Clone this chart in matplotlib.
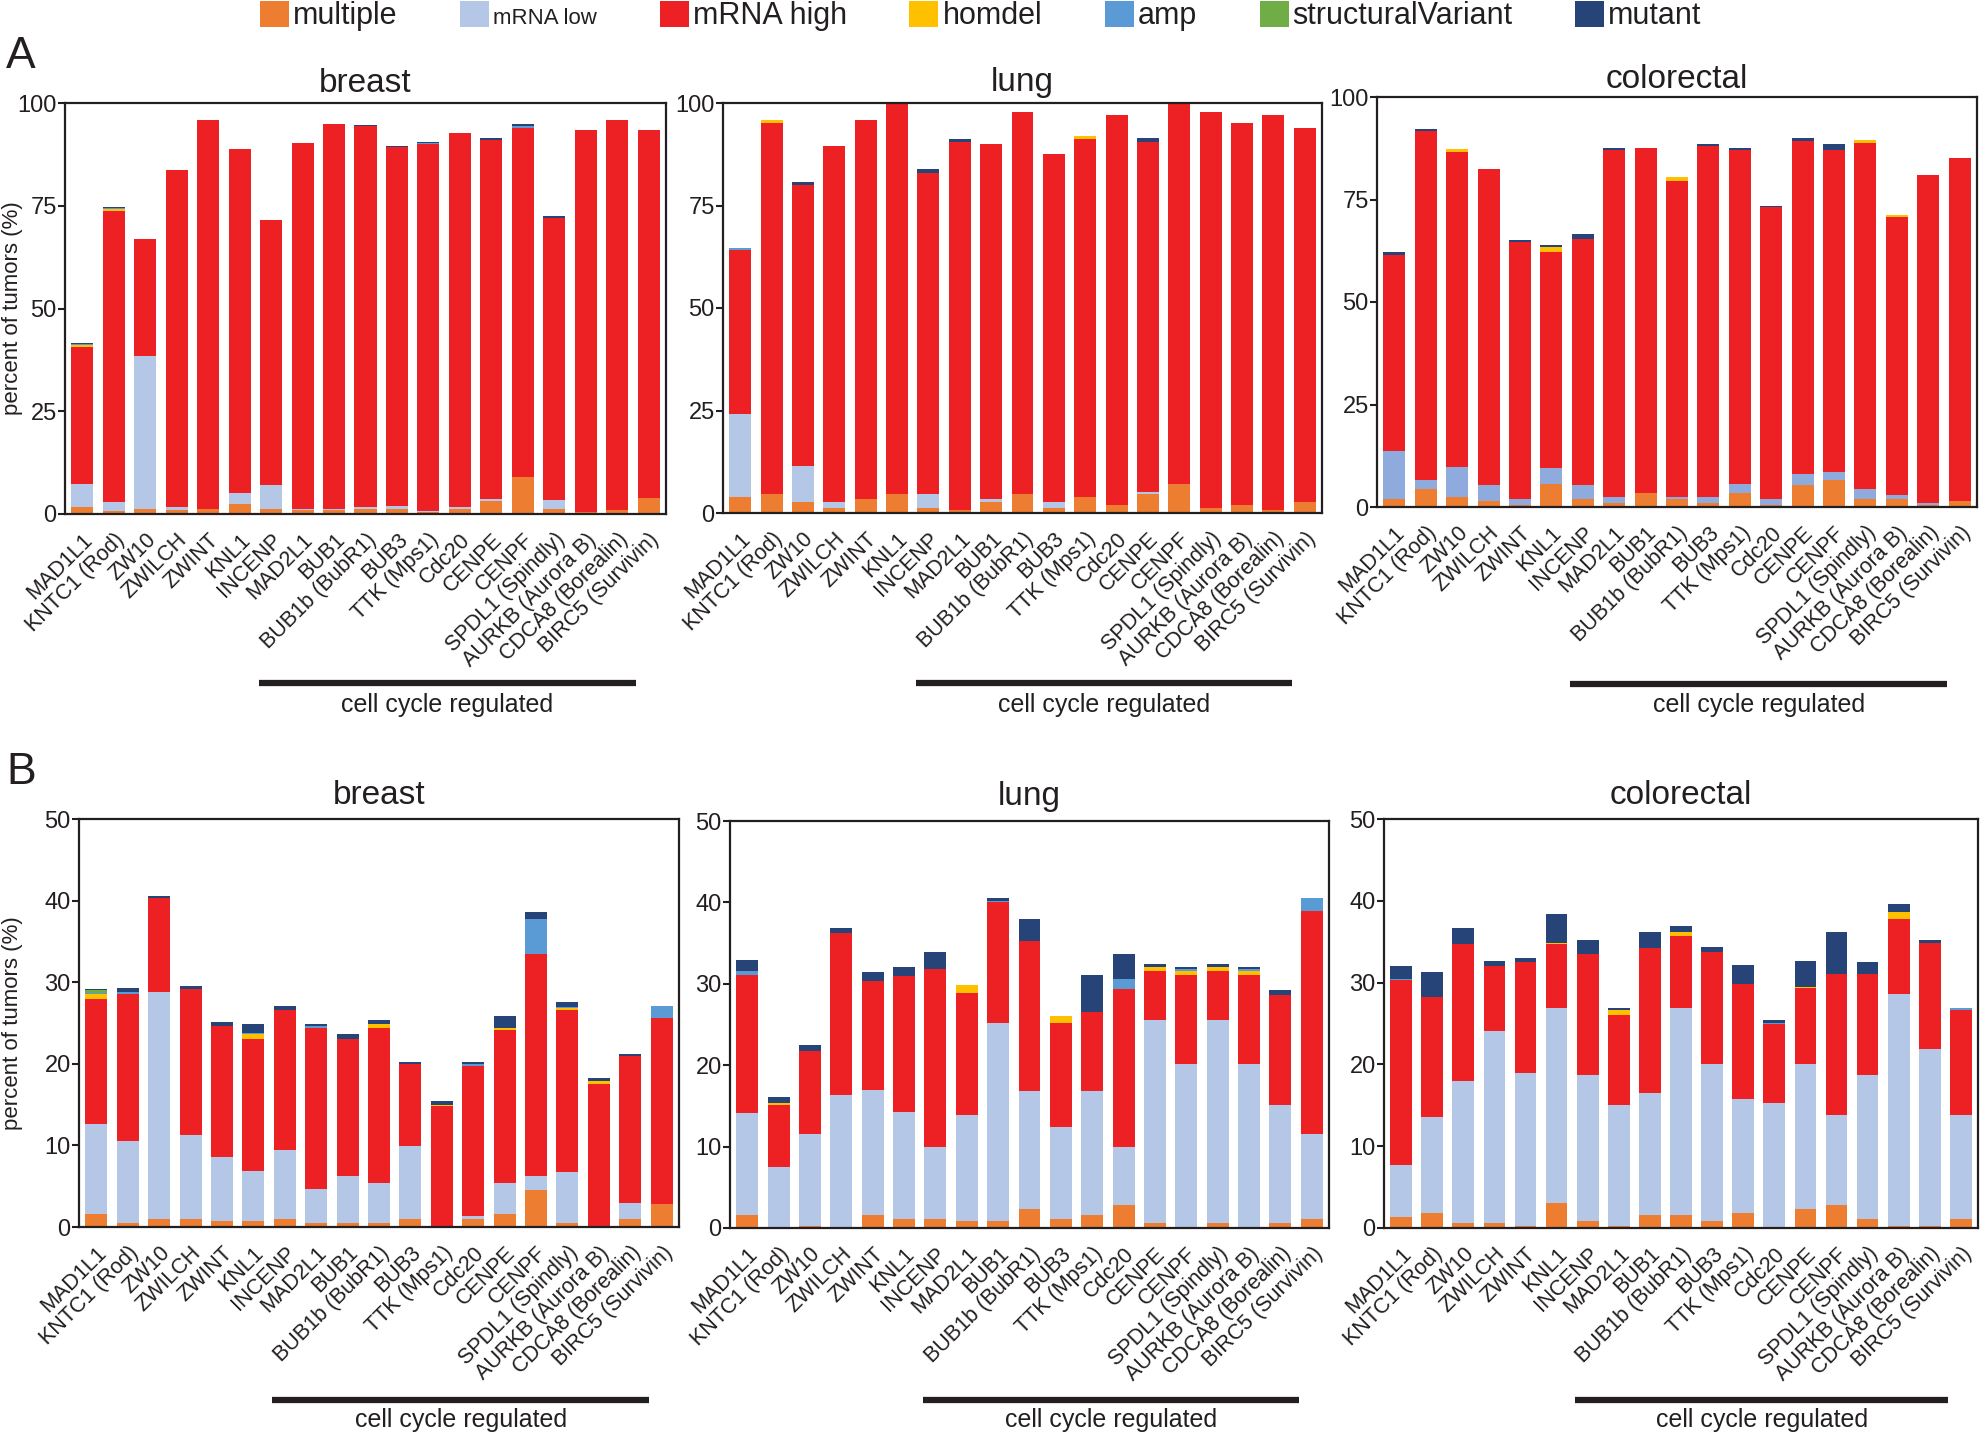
import matplotlib
matplotlib.use('Agg')
import matplotlib.pyplot as plt
from matplotlib.patches import Patch
from matplotlib.transforms import blended_transform_factory, ScaledTranslation
import numpy as np

plt.rcParams['font.family'] = ['Liberation Sans', 'DejaVu Sans']

# ---------------- data ----------------
genes = ['MAD1L1', 'KNTC1 (Rod)', 'ZW10', 'ZWILCH', 'ZWINT', 'KNL1', 'INCENP',
         'MAD2L1', 'BUB1', 'BUB1b (BubR1)', 'BUB3', 'TTK (Mps1)', 'Cdc20',
         'CENPE', 'CENPF', 'SPDL1 (Spindly)', 'AURKB (Aurora B)',
         'CDCA8 (Borealin)', 'BIRC5 (Survivin)']
categories = ['multiple', 'mRNA low', 'mRNA high', 'homdel', 'amp',
              'structuralVariant', 'mutant']
colors = ['#ED7D31', '#B4C7E7', '#ED2024', '#FFC000', '#5B9BD5', '#70AD47', '#264478']

Z = [0] * 19

# Panel A: breast
A_breast_multiple = [1.7, 0.7, 1.1, 0.9, 1.3, 2.4, 1.3, 0.9, 0.9, 1.3, 1.1, 0.4, 1.3, 3.1, 9.1, 1.1, 0.5, 0.9, 3.9]
A_breast_mrna_low = [5.7, 2.3, 37.4, 0.8, 0, 2.6, 5.8, 0.3, 0.3, 0.4, 0.9, 0.3, 0.4, 0.6, 0, 2.2, 0, 0, 0]
A_breast_mrna_high = [33.3, 70.8, 28.3, 82.0, 94.6, 83.9, 64.4, 89.0, 93.7, 92.6, 87.2, 89.4, 91.1, 87.4, 84.7, 68.7, 93.0, 95.0, 89.6]
A_breast_homdel = [0.4, 0.4, 0, 0, 0, 0, 0, 0, 0, 0, 0, 0, 0, 0, 0, 0, 0, 0, 0]
A_breast_amp = [0.3, 0.2, 0, 0, 0, 0, 0, 0, 0, 0.15, 0.2, 0.2, 0, 0, 0.6, 0, 0, 0, 0]
A_breast_sv = Z
A_breast_mutant = [0.3, 0.2, 0, 0, 0, 0, 0, 0, 0, 0.15, 0.2, 0.3, 0, 0.4, 0.4, 0.4, 0, 0, 0]

# Panel A: lung
A_lung_multiple = [3.9, 4.6, 2.6, 1.3, 3.3, 4.6, 1.3, 0.7, 2.6, 4.6, 1.3, 3.9, 2.0, 4.6, 7.0, 1.3, 2.0, 0.7, 2.6]
A_lung_mrna_low = [20.2, 0, 8.9, 1.3, 0, 0, 3.3, 0, 0.7, 0, 1.3, 0, 0, 0.6, 0, 0, 0, 0, 0]
A_lung_mrna_high = [40.1, 90.6, 68.5, 86.8, 92.5, 95.1, 78.4, 89.9, 86.8, 93.1, 85.0, 87.4, 95.1, 85.4, 93.0, 96.4, 93.2, 96.4, 91.3]
A_lung_homdel = [0, 0.6, 0, 0, 0, 0, 0, 0, 0, 0, 0, 0.6, 0, 0, 0, 0, 0, 0, 0]
A_lung_amp = [0.5, 0, 0, 0, 0, 0, 0, 0, 0, 0, 0, 0, 0, 0, 0, 0, 0, 0, 0]
A_lung_sv = Z
A_lung_mutant = [0, 0, 0.7, 0, 0, 0, 0.9, 0.7, 0, 0, 0, 0, 0, 0.8, 0, 0, 0, 0, 0]

# Panel A: colorectal
A_crc_multiple = [2.0, 4.3, 2.4, 1.5, 0.6, 5.7, 2.0, 1.0, 3.3, 2.0, 1.0, 3.3, 0.6, 5.3, 6.7, 2.0, 2.0, 0.6, 1.5]
A_crc_mrna_low = [11.7, 2.4, 7.4, 3.8, 1.4, 3.7, 3.3, 1.4, 0, 0.4, 1.4, 2.4, 1.4, 2.7, 1.8, 2.3, 0.9, 0.4, 0]
A_crc_mrna_high = [47.7, 85.1, 76.8, 77.1, 62.6, 52.8, 60.1, 84.7, 84.2, 77.1, 85.6, 81.4, 71.1, 81.3, 78.6, 84.6, 67.8, 80.0, 83.7]
A_crc_homdel = [0, 0, 0.6, 0, 0, 1.1, 0, 0, 0, 1.0, 0, 0, 0, 0, 0, 0.5, 0.5, 0, 0]
A_crc_amp = Z
A_crc_sv = Z
A_crc_mutant = [0.9, 0.5, 0, 0, 0.5, 0.5, 1.1, 0.5, 0, 0, 0.5, 0.5, 0.4, 0.6, 1.4, 0, 0, 0, 0]

# Panel B: breast
B_breast_multiple = [1.6, 0.5, 1.0, 1.0, 0.7, 0.7, 1.0, 0.5, 0.5, 0.5, 1.0, 0, 1.0, 1.6, 4.5, 0.5, 0, 1.0, 2.8]
B_breast_mrna_low = [11.0, 10.1, 27.8, 10.3, 7.9, 6.2, 8.4, 4.2, 5.7, 4.9, 8.9, 0, 0.3, 3.8, 1.7, 6.2, 0, 2.0, 0]
B_breast_mrna_high = [15.4, 18.0, 11.5, 17.9, 16.0, 16.2, 17.2, 19.7, 16.9, 19.0, 10.1, 14.8, 18.4, 18.7, 27.3, 19.9, 17.5, 17.9, 22.8]
B_breast_homdel = [0.5, 0, 0, 0, 0, 0.5, 0, 0, 0, 0.5, 0, 0.2, 0, 0.3, 0, 0.2, 0.4, 0, 0]
B_breast_amp = [0.2, 0.2, 0, 0, 0, 0.2, 0, 0.2, 0, 0, 0, 0, 0.3, 0, 4.3, 0.2, 0, 0, 1.5]
B_breast_sv = [0.3, 0, 0, 0, 0, 0, 0, 0, 0, 0, 0, 0, 0, 0, 0, 0, 0, 0, 0]
B_breast_mutant = [0.2, 0.5, 0.3, 0.3, 0.5, 1.1, 0.5, 0.3, 0.5, 0.5, 0.2, 0.5, 0.2, 1.5, 0.8, 0.6, 0.3, 0.3, 0]

# Panel B: lung
B_lung_multiple = [1.6, 0, 0.3, 0, 1.6, 1.1, 1.1, 0.8, 0.8, 2.3, 1.1, 1.6, 2.8, 0.6, 0, 0.6, 0, 0.6, 1.1]
B_lung_mrna_low = [12.5, 7.5, 11.3, 16.3, 15.4, 13.2, 8.8, 13.1, 24.4, 14.5, 11.3, 15.2, 7.1, 24.9, 20.2, 24.9, 20.2, 14.5, 10.5]
B_lung_mrna_high = [17.0, 7.6, 10.1, 20.0, 13.4, 16.6, 21.9, 15.0, 14.8, 18.5, 12.8, 9.7, 19.5, 6.1, 10.9, 6.1, 10.9, 13.5, 27.4]
B_lung_homdel = [0, 0.3, 0, 0, 0, 0, 0, 1.0, 0, 0, 0.8, 0, 0, 0.5, 0.5, 0.5, 0.5, 0, 0]
B_lung_amp = [0.5, 0, 0, 0, 0, 0, 0, 0, 0.2, 0, 0, 0, 1.2, 0, 0.2, 0, 0.2, 0, 1.5]
B_lung_sv = Z
B_lung_mutant = [1.3, 0.7, 0.8, 0.5, 1.0, 1.2, 2.1, 0, 0.3, 2.7, 0, 4.6, 3.0, 0.3, 0.3, 0.3, 0.3, 0.6, 0]

# Panel B: colorectal
B_crc_multiple = [1.3, 1.8, 0.6, 0.6, 0.3, 3.0, 0.8, 0.3, 1.6, 1.6, 0.8, 1.8, 0, 2.3, 2.8, 1.1, 0.3, 0.3, 1.1]
B_crc_mrna_low = [6.4, 11.8, 17.4, 23.5, 18.7, 23.9, 17.9, 14.7, 14.9, 25.3, 19.2, 14.0, 15.3, 17.7, 11.0, 17.6, 28.3, 21.6, 12.7]
B_crc_mrna_high = [22.6, 14.7, 16.7, 7.9, 13.5, 7.8, 14.8, 11.1, 17.7, 8.8, 13.7, 14.0, 9.6, 9.3, 17.2, 12.3, 9.2, 13.0, 12.8]
B_crc_homdel = [0, 0, 0, 0, 0, 0.2, 0, 0.5, 0, 0.5, 0, 0, 0, 0.2, 0, 0, 0.8, 0, 0]
B_crc_amp = [0.2, 0, 0, 0, 0, 0, 0, 0, 0, 0, 0, 0, 0.2, 0, 0, 0, 0, 0, 0.3]
B_crc_sv = Z
B_crc_mutant = [1.5, 3.0, 2.0, 0.7, 0.5, 3.5, 1.7, 0.3, 2.0, 0.7, 0.7, 2.4, 0.3, 3.2, 5.2, 1.5, 1.0, 0.3, 0]

A_ticks = [0, 25, 50, 75, 100]
B_ticks = [0, 10, 20, 30, 40, 50]

# ---------------- figure ----------------
W, H = 1983, 1434
fig = plt.figure(figsize=(W / 100, H / 100), dpi=100)
INK = '#231F20'


def add_ax(l, t, r, b):
    return fig.add_axes([l / W, 1 - b / H, (r - l) / W, (b - t) / H])


def draw(ax, series, ticks, low_color, ylabel, ylab_x):
    x = np.arange(len(genes))
    bottom = np.zeros(len(genes))
    cols = list(colors)
    cols[1] = low_color
    for vals, c in zip(series, cols):
        v = np.asarray(vals, dtype=float)
        ax.bar(x, v, bottom=bottom, width=0.7, color=c, linewidth=0)
        bottom += v
    ax.set_xlim(-0.55, len(genes) - 0.45)
    ax.set_ylim(ticks[0], ticks[-1])
    ax.set_yticks(ticks)
    ax.set_xticks(x)
    ax.set_xticklabels(genes, rotation=45, ha='right', va='top',
                       rotation_mode='anchor', fontsize=15.5, color=INK)
    shift = ScaledTranslation(0.09, 0, fig.dpi_scale_trans)
    for lab in ax.get_xticklabels():
        lab.set_transform(lab.get_transform() + shift)
    ax.tick_params(axis='x', length=0, pad=11)
    ax.tick_params(axis='y', direction='out', length=5, width=1.5,
                   labelsize=17, pad=1, colors=INK)
    for s in ax.spines.values():
        s.set_linewidth(1.6)
        s.set_color(INK)
    if ylabel:
        ax.set_ylabel('percent of tumors (%)', fontsize=16, color=INK)
        ax.yaxis.set_label_coords(ylab_x, 0.5)


def cell_cycle(ax, ybar, ytext):
    tr = blended_transform_factory(ax.transData, fig.transFigure)
    ax.plot([5.6, 17.6], [1 - ybar / H] * 2, transform=tr, color=INK,
            lw=4.5, solid_capstyle='butt', clip_on=False)
    ax.text(11.6, 1 - ytext / H, 'cell cycle regulated', transform=tr,
            ha='center', va='center', fontsize=18, color=INK)


panels = [
    ((65, 103, 666, 514), [A_breast_multiple, A_breast_mrna_low, A_breast_mrna_high, A_breast_homdel,
                           A_breast_amp, A_breast_sv, A_breast_mutant], A_ticks, '#B4C7E7', True, -0.070, 'breast', 83, 683, 705),
    ((723, 103, 1322, 513), [A_lung_multiple, A_lung_mrna_low, A_lung_mrna_high, A_lung_homdel,
                            A_lung_amp, A_lung_sv, A_lung_mutant], A_ticks, '#B4C7E7', False, 0, 'lung', 83, 683, 705),
    ((1377, 97, 1977, 507), [A_crc_multiple, A_crc_mrna_low, A_crc_mrna_high, A_crc_homdel,
                            A_crc_amp, A_crc_sv, A_crc_mutant], A_ticks, '#8FAADC', False, 0, 'colorectal', 80, 684, 705),
    ((79, 819, 679, 1227), [B_breast_multiple, B_breast_mrna_low, B_breast_mrna_high, B_breast_homdel,
                            B_breast_amp, B_breast_sv, B_breast_mutant], B_ticks, '#B4C7E7', True, -0.093, 'breast', 795, 1400, 1420),
    ((730, 821, 1329, 1228), [B_lung_multiple, B_lung_mrna_low, B_lung_mrna_high, B_lung_homdel,
                             B_lung_amp, B_lung_sv, B_lung_mutant], B_ticks, '#B4C7E7', False, 0, 'lung', 797, 1400, 1420),
    ((1384, 819, 1978, 1228), [B_crc_multiple, B_crc_mrna_low, B_crc_mrna_high, B_crc_homdel,
                              B_crc_amp, B_crc_sv, B_crc_mutant], B_ticks, '#B4C7E7', False, 0, 'colorectal', 795, 1400, 1420),
]

for box, series, ticks, lowc, ylab, ylx, title, ty, yb, yt in panels:
    ax = add_ax(*box)
    draw(ax, series, ticks, lowc, ylab, ylx)
    cell_cycle(ax, yb, yt)
    cx = (box[0] + box[2]) / 2 / W
    fig.text(cx, 1 - ty / H, title, ha='center', va='center', fontsize=24, color=INK)

fig.text(6 / W, 1 - 57 / H, 'A', ha='left', va='center', fontsize=32, color=INK)
fig.text(6 / W, 1 - 772 / H, 'B', ha='left', va='center', fontsize=32, color=INK)

handles = [Patch(facecolor=c, edgecolor='none') for c in colors]
leg = fig.legend(handles, categories, loc='center left', bbox_to_anchor=(260 / W, 1 - 16 / H),
                 ncol=7, frameon=False, fontsize=22, handlelength=0.95, handleheight=0.95,
                 handletextpad=0.13, columnspacing=2.05, borderpad=0, borderaxespad=0)
for t in leg.get_texts():
    t.set_color(INK)
leg.get_texts()[1].set_fontsize(16)

fig.savefig('out.png', dpi=100)
